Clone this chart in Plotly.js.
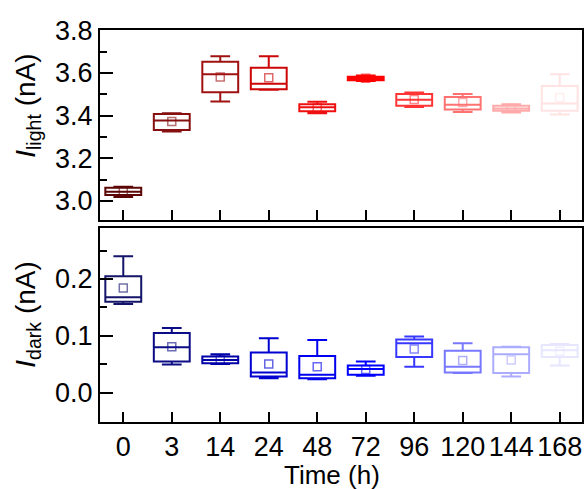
<!DOCTYPE html>
<html>
<head>
<meta charset="utf-8">
<script src="https://cdn.plot.ly/plotly-3.0.1.min.js"></script>
<style>html,body{margin:0;padding:0;background:#fff;}#chart{width:587px;height:489px;}</style>
</head>
<body>
<div id="chart"></div>
<script>
const categories = ['0','3','14','24','48','72','96','120','144','168'];

// I_light (nA) box statistics
const lightQ1     = [3.027, 3.333, 3.510, 3.524, 3.420, 3.566, 3.446, 3.429, 3.423, 3.423];
const lightMedian = [3.043, 3.377, 3.594, 3.550, 3.439, 3.575, 3.474, 3.451, 3.434, 3.457];
const lightQ3     = [3.062, 3.408, 3.653, 3.625, 3.454, 3.583, 3.501, 3.487, 3.446, 3.539];
const lightLow    = [3.018, 3.326, 3.466, 3.522, 3.411, 3.562, 3.440, 3.417, 3.415, 3.405];
const lightHigh   = [3.066, 3.411, 3.679, 3.679, 3.465, 3.588, 3.508, 3.501, 3.454, 3.594];
const lightMean   = [3.045, 3.372, 3.581, 3.578, 3.437, 3.575, 3.476, 3.462, 3.435, 3.485];

// I_dark (nA) box statistics
const darkQ1     = [0.160, 0.055, 0.052, 0.029, 0.026, 0.032, 0.063, 0.036, 0.035, 0.063];
const darkMedian = [0.168, 0.080, 0.058, 0.036, 0.032, 0.042, 0.087, 0.046, 0.068, 0.075];
const darkQ3     = [0.205, 0.105, 0.064, 0.071, 0.065, 0.048, 0.094, 0.074, 0.080, 0.084];
const darkLow    = [0.156, 0.050, 0.051, 0.026, 0.024, 0.030, 0.046, 0.035, 0.029, 0.048];
const darkHigh   = [0.240, 0.114, 0.068, 0.096, 0.093, 0.055, 0.099, 0.087, 0.081, 0.086];
const darkMean   = [0.184, 0.081, 0.058, 0.051, 0.046, 0.041, 0.077, 0.057, 0.058, 0.073];

const redColors  = ['#5c0606','#861010','#a01212','#cc0606','#ee1010','#ff0000','#ff3535','#ff7272','#ffaaaa','#ffe2e2'];
const blueColors = ['#14146a','#0c0c86','#0000a8','#0000d0','#0000ee','#0000ff','#3838ff','#7878ff','#acacff','#e6e6ff'];

function hexA(h, a){
  const r = parseInt(h.slice(1,3),16), g = parseInt(h.slice(3,5),16), b = parseInt(h.slice(5,7),16);
  return 'rgba('+r+','+g+','+b+','+a+')';
}

const traces = [];
categories.forEach((c, i) => {
  traces.push({
    type: 'box', x: [c], q1: [lightQ1[i]], median: [lightMedian[i]], q3: [lightQ3[i]],
    lowerfence: [lightLow[i]], upperfence: [lightHigh[i]],
    xaxis: 'x', yaxis: 'y', width: 0.74, whiskerwidth: 0.55,
    line: {color: redColors[i], width: 2}, fillcolor: 'rgba(0,0,0,0)',
    boxpoints: false, showlegend: false, hoverinfo: 'skip'
  });
  traces.push({
    type: 'box', x: [c], q1: [darkQ1[i]], median: [darkMedian[i]], q3: [darkQ3[i]],
    lowerfence: [darkLow[i]], upperfence: [darkHigh[i]],
    xaxis: 'x2', yaxis: 'y2', width: 0.74, whiskerwidth: 0.55,
    line: {color: blueColors[i], width: 2}, fillcolor: 'rgba(0,0,0,0)',
    boxpoints: false, showlegend: false, hoverinfo: 'skip'
  });
});
traces.push({
  type: 'scatter', mode: 'markers', x: categories, y: lightMean, xaxis: 'x', yaxis: 'y',
  marker: {symbol: 'square-open', size: 8, color: redColors.map(c => hexA(c, 0.6)), line: {width: 1.5}},
  showlegend: false, hoverinfo: 'skip'
});
traces.push({
  type: 'scatter', mode: 'markers', x: categories, y: darkMean, xaxis: 'x2', yaxis: 'y2',
  marker: {symbol: 'square-open', size: 8, color: blueColors.map(c => hexA(c, 0.6)), line: {width: 1.5}},
  showlegend: false, hoverinfo: 'skip'
});

const fontFam = 'Liberation Sans, Arial, sans-serif';
const xCommon = {
  type: 'category', categoryorder: 'array', categoryarray: categories,
  range: [-0.48, 9.46], showline: true, linecolor: 'black', linewidth: 2, mirror: true,
  ticks: 'inside', ticklen: 10, tickwidth: 2, tickcolor: 'black', tickangle: 0,
  showgrid: false, zeroline: false, fixedrange: true,
  tickfont: {family: fontFam, size: 27, color: 'black'}
};
const yCommon = {
  showline: true, linecolor: 'black', linewidth: 2, mirror: true,
  ticks: 'inside', ticklen: 13, tickwidth: 2, tickcolor: 'black',
  showgrid: false, zeroline: false, fixedrange: true,
  tickfont: {family: fontFam, size: 27, color: 'black'}
};

const layout = {
  width: 587, height: 489,
  margin: {l: 100, r: 5, t: 30, b: 67},
  paper_bgcolor: 'white', plot_bgcolor: 'white',
  boxmode: 'overlay', showlegend: false,
  xaxis: Object.assign({}, xCommon, {anchor: 'y', domain: [0, 1], showticklabels: false}),
  yaxis: Object.assign({}, yCommon, {domain: [0.5153, 1], range: [2.91, 3.802], tickvals: [3.0, 3.2, 3.4, 3.6, 3.8], ticktext: ['3.0','3.2','3.4','3.6','3.8'],
    minor: {tickvals: [3.1, 3.3, 3.5, 3.7], ticks: 'inside', ticklen: 7, tickwidth: 2, tickcolor: 'black', showgrid: false}}),
  xaxis2: Object.assign({}, xCommon, {anchor: 'y2', domain: [0, 1], showticklabels: true}),
  yaxis2: Object.assign({}, yCommon, {domain: [0, 0.4949], range: [-0.051, 0.2895], tickvals: [0.0, 0.1, 0.2], ticktext: ['0.0','0.1','0.2'],
    minor: {tickvals: [0.05, 0.15, 0.25], ticks: 'inside', ticklen: 7, tickwidth: 2, tickcolor: 'black', showgrid: false}}),
  annotations: [
    {text: '<i>I</i><sub>light</sub> (nA)', xref: 'paper', yref: 'paper', x: -0.152, y: 0.806,
     xanchor: 'center', yanchor: 'middle', textangle: -90, showarrow: false,
     font: {family: fontFam, size: 28, color: 'black'}},
    {text: '<i>I</i><sub>dark</sub> (nA)', xref: 'paper', yref: 'paper', x: -0.152, y: 0.2755,
     xanchor: 'center', yanchor: 'middle', textangle: -90, showarrow: false,
     font: {family: fontFam, size: 28, color: 'black'}},
    {text: 'Time (h)', xref: 'paper', yref: 'paper', x: 0.481, y: -0.134,
     xanchor: 'center', yanchor: 'middle', showarrow: false,
     font: {family: fontFam, size: 26, color: 'black'}}
  ]
};

Plotly.newPlot('chart', traces, layout, {staticPlot: true, displayModeBar: false});
</script>
</body>
</html>
